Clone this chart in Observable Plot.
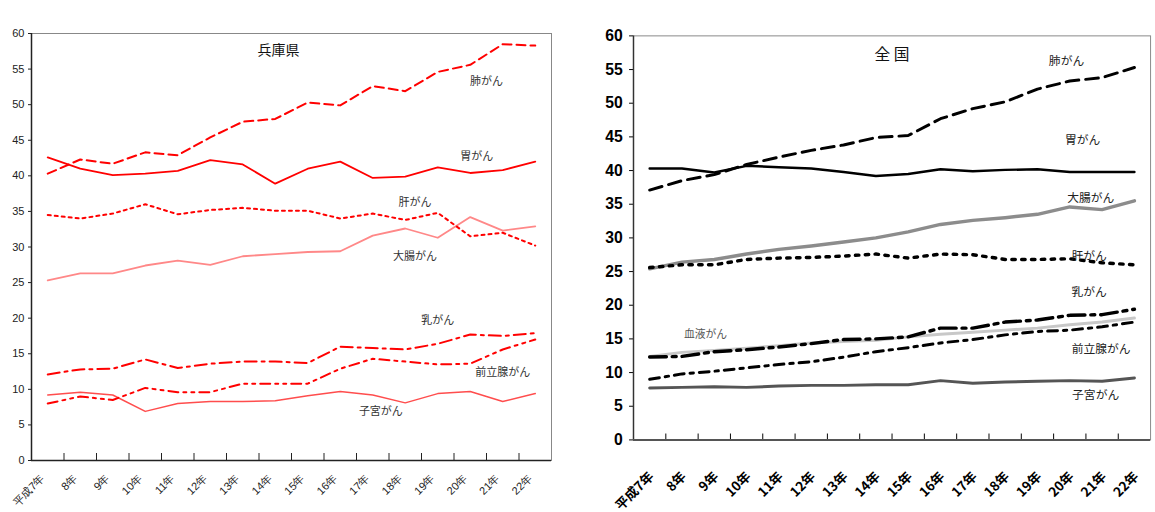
<!DOCTYPE html>
<html><head><meta charset="utf-8">
<script src="https://cdn.jsdelivr.net/npm/d3@7"></script>
<script src="https://cdn.jsdelivr.net/npm/@observablehq/plot@0.6"></script>
<style>
body{margin:0;background:#fff;width:1155px;height:512px;overflow:hidden;position:relative;font-family:"Liberation Sans",Arial,sans-serif}
#left{position:absolute;left:0;top:0}
#right{position:absolute;left:575px;top:0}
.lbl{position:absolute;white-space:nowrap;line-height:1}
</style></head><body>
<div class="lbl" style="left:8px;top:14px;font-size:8px;color:#333">死亡率</div>
<div class="lbl" style="left:592px;top:9px;font-size:15px;font-weight:bold;color:#000;font-family:'Noto Sans CJK JP',sans-serif;letter-spacing:-1px">死亡率</div>
<div id="left"></div><div id="right"></div>
<script>
const years = ["平成7年","8年","9年","10年","11年","12年","13年","14年","15年","16年","17年","18年","19年","20年","21年","22年"];
const yTicks = [0,5,10,15,20,25,30,35,40,45,50,55,60];

// 兵庫県
const hyogoLung     = [40.3,42.3,41.7,43.3,42.9,45.4,47.6,48.0,50.3,49.9,52.6,51.9,54.6,55.6,58.5,58.3];
const hyogoStomach  = [42.6,41.0,40.1,40.3,40.7,42.2,41.6,38.9,41.0,42.0,39.7,39.9,41.2,40.4,40.8,42.0];
const hyogoLiver    = [34.5,34.0,34.7,36.0,34.6,35.2,35.5,35.1,35.1,34.0,34.7,33.8,34.8,31.5,32.0,30.2];
const hyogoColon    = [25.3,26.3,26.3,27.4,28.1,27.5,28.7,29.0,29.3,29.4,31.6,32.6,31.3,34.2,32.3,32.9];
const hyogoBreast   = [12.1,12.8,12.9,14.2,13.0,13.6,13.9,13.9,13.7,16.0,15.8,15.6,16.4,17.7,17.5,17.9];
const hyogoProstate = [8.0,9.0,8.5,10.2,9.6,9.6,10.8,10.8,10.8,12.9,14.3,13.9,13.5,13.6,15.6,17.0];
const hyogoUterus   = [9.2,9.6,9.2,6.9,8.0,8.3,8.3,8.4,9.1,9.7,9.2,8.1,9.4,9.7,8.3,9.4];

// 全国
const natLung     = [37.1,38.5,39.4,40.9,42.0,43.0,43.8,44.9,45.2,47.7,49.2,50.2,52.1,53.3,53.8,55.3];
const natStomach  = [40.3,40.3,39.7,40.7,40.5,40.3,39.8,39.2,39.5,40.2,39.9,40.1,40.2,39.8,39.8,39.8];
const natColon    = [25.4,26.4,26.8,27.6,28.3,28.8,29.4,30.0,30.9,32.0,32.6,33.0,33.5,34.6,34.2,35.5];
const natLiver    = [25.6,26.0,26.0,26.8,27.0,27.1,27.3,27.6,27.0,27.6,27.5,26.8,26.8,26.9,26.3,26.0];
const natBlood    = [12.4,13.0,13.3,13.6,14.0,14.4,14.6,14.8,15.3,15.7,16.0,16.3,16.6,17.1,17.5,18.1];
const natBreast   = [12.3,12.4,13.1,13.4,13.8,14.3,14.9,15.0,15.3,16.6,16.6,17.5,17.8,18.5,18.6,19.4];
const natProstate = [9.0,9.8,10.2,10.7,11.2,11.6,12.3,13.1,13.7,14.4,14.9,15.6,16.1,16.3,16.8,17.5];
const natUterus   = [7.7,7.8,7.9,7.8,8.0,8.1,8.1,8.2,8.2,8.8,8.4,8.6,8.7,8.8,8.7,9.2];

// annotation labels: [text, category index, value]
const hyogoLabels = [["肺がん",13.5,53.3],["胃がん",13.2,42.7],["肝がん",11.3,36.3],["大腸がん",11.3,28.7],["乳がん",12.0,19.7],["前立腺がん",14.0,12.4],["子宮がん",10.25,6.9]];
const natLabels = [["肺がん",12.9,56.2],["胃がん",13.4,44.5],["大腸がん",13.65,35.9],["肝がん",13.6,27.3],["乳がん",13.6,21.9],["前立腺がん",13.97,13.4],["子宮がん",13.8,6.7]];

const rows = arr => arr.map((v, i) => ({i, v}));
const line = (arr, opts) => Plot.line(rows(arr), {x: "i", y: "v", ...opts});
const idx = d3.range(16);
const bounds = d3.range(0.5, 15, 1);

const left = Plot.plot({
  width: 575, height: 512,
  marginLeft: 31, marginRight: 24, marginTop: 33, marginBottom: 52,
  x: {domain: [-0.5, 15.5]},
  y: {domain: [0, 60]},
  style: {fontFamily: "'Liberation Sans', Arial, sans-serif", fontSize: "11px", color: "#222", background: "#fff", overflow: "visible"},
  marks: [
    Plot.frame({stroke: "#888"}),
    Plot.axisY({ticks: yTicks, tickSize: 3, tickPadding: 4, label: null, fontSize: 11, fill: "#222"}),
    Plot.axisX({ticks: bounds, tickSize: -7, tickFormat: () => "", label: null}),
    Plot.axisX({ticks: idx, tickSize: 0, tickPadding: 16, tickRotate: -45, tickFormat: i => years[i], label: null, fontSize: 11, fill: "#222", dx: -5}),
    Plot.ruleX([-0.5], {stroke: "#222", strokeWidth: 1.5}),
    Plot.ruleY([0], {stroke: "#222", strokeWidth: 1.5}),
    line(hyogoColon, {stroke: "#ff8888", strokeWidth: 1.8}),
    line(hyogoUterus, {stroke: "#ff4d4d", strokeWidth: 1.5}),
    line(hyogoLung, {stroke: "#ff0000", strokeWidth: 2, strokeDasharray: "9,5"}),
    line(hyogoStomach, {stroke: "#ff0000", strokeWidth: 1.8}),
    line(hyogoLiver, {stroke: "#ff0000", strokeWidth: 2, strokeDasharray: "3,4"}),
    line(hyogoBreast, {stroke: "#ff0000", strokeWidth: 2, strokeDasharray: "12,5,3,5"}),
    line(hyogoProstate, {stroke: "#ff0000", strokeWidth: 2, strokeDasharray: "10,5,3,5,3,5"}),
    Plot.text(hyogoLabels, {x: d => d[1], y: d => d[2], text: d => d[0], fontSize: 11, fill: "#333", fontFamily: "'Noto Sans CJK JP', sans-serif"}),
    Plot.text(["兵庫県"], {x: [7.1], y: [57.6], text: d => d, fontSize: 14, fill: "#111", fontFamily: "'Noto Sans CJK JP', sans-serif"})
  ]
});
document.getElementById("left").appendChild(left);

const right = Plot.plot({
  width: 590, height: 512,
  marginLeft: 59, marginRight: 5, marginTop: 36, marginBottom: 65,
  x: {domain: [-0.5, 15.5]},
  y: {domain: [0, 60]},
  style: {fontFamily: "'Liberation Sans Narrow', 'Liberation Sans', Arial, sans-serif", fontSize: "16px", fontWeight: "bold", color: "#000", background: "#fff", overflow: "visible"},
  marks: [
    Plot.frame({stroke: "#888"}),
    Plot.axisY({ticks: yTicks, tickSize: 4, tickPadding: 7, label: null, fontSize: 16, fontWeight: "bold", fill: "#000"}),
    Plot.axisX({ticks: bounds, tickSize: -6, tickFormat: () => "", label: null}),
    Plot.axisX({ticks: idx, tickSize: 0, tickPadding: 35, tickRotate: -45, tickFormat: i => years[i], label: null, fontSize: 13.5, fontWeight: "bold", fill: "#000", dx: 2, fontFamily: "'Noto Sans CJK JP', sans-serif"}),
    Plot.ruleX([-0.5], {stroke: "#333", strokeWidth: 1.5}),
    Plot.ruleY([0], {stroke: "#555", strokeWidth: 2}),
    line(natColon, {stroke: "#8c8c8c", strokeWidth: 3.5}),
    line(natBlood, {stroke: "#c8c8c8", strokeWidth: 3}),
    line(natUterus, {stroke: "#555", strokeWidth: 3}),
    line(natStomach, {stroke: "#000", strokeWidth: 2.5}),
    line(natLung, {stroke: "#000", strokeWidth: 3, strokeDasharray: "13,7"}),
    line(natLiver, {stroke: "#000", strokeWidth: 3.5, strokeDasharray: "3.5,6.5"}),
    line(natBreast, {stroke: "#000", strokeWidth: 3.5, strokeDasharray: "17,6,4,6"}),
    line(natProstate, {stroke: "#000", strokeWidth: 3, strokeDasharray: "10,6,3.5,6"}),
    Plot.text(natLabels, {x: d => d[1], y: d => d[2], text: d => d[0], fontSize: 12, fontWeight: "normal", fill: "#222", fontFamily: "'Noto Sans CJK JP', sans-serif"}),
    Plot.text(["血液がん"], {x: [1.73], y: [15.6], text: d => d, fontSize: 11, fontWeight: "normal", fill: "#555", fontFamily: "'Noto Sans CJK JP', sans-serif"}),
    Plot.text(["全 国"], {x: [7.5], y: [57.2], text: d => d, fontSize: 16, fontWeight: "normal", fill: "#111", fontFamily: "'Noto Sans CJK JP', sans-serif"})
  ]
});
document.getElementById("right").appendChild(right);
</script>
</body></html>
